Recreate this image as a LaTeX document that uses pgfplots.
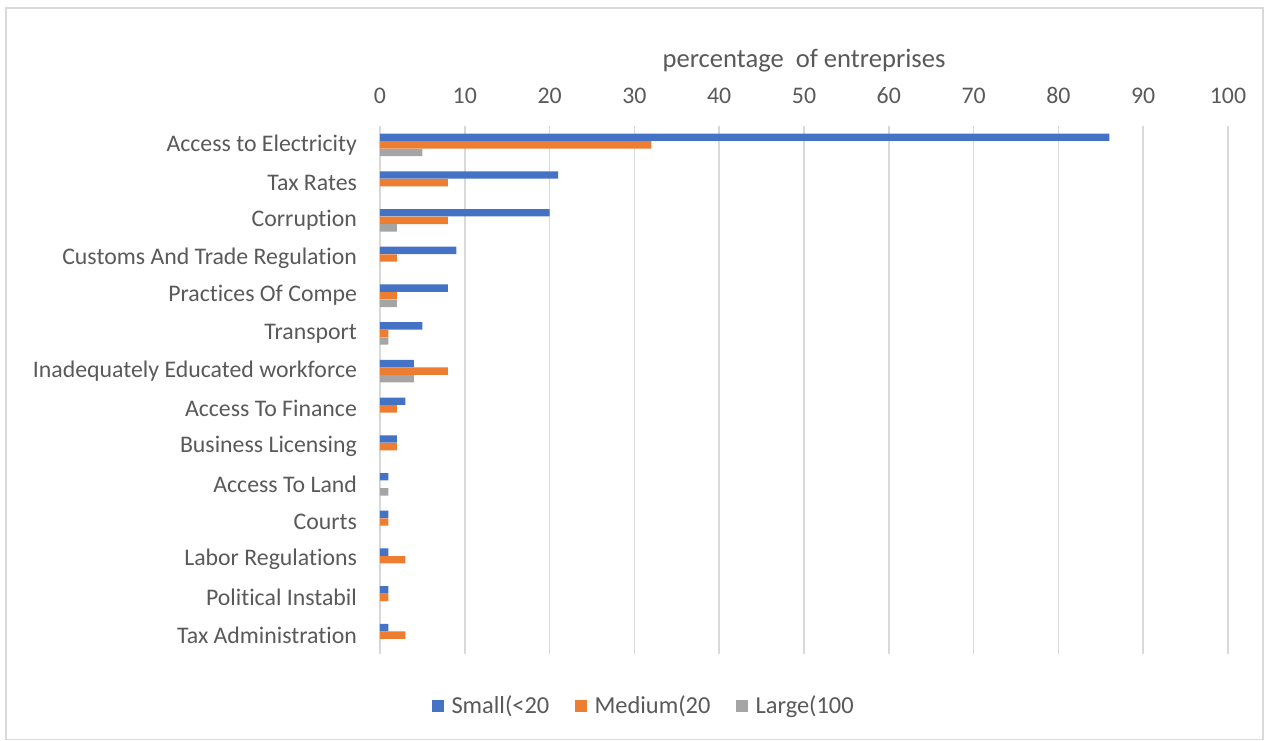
\documentclass[border=0pt]{standalone}
\usepackage{pgfplots}
\pgfplotsset{compat=1.18}
\usepackage{fontspec}
\setmainfont{Carlito}[RawFeature={-liga;-clig;-calt;-dlig}]
\definecolor{cS}{HTML}{4472C4}
\definecolor{cM}{HTML}{ED7D31}
\definecolor{cL}{HTML}{A5A5A5}
\definecolor{txt}{HTML}{595959}
\definecolor{grd}{HTML}{D9D9D9}
\begin{document}
\begin{tikzpicture}
\useasboundingbox (0,0) rectangle (632pt,-370pt);
\draw[grd, line width=0.6pt] (3pt,-4pt) rectangle (631.5pt,-369.7pt);
\begin{axis}[at={(190pt,-63pt)}, anchor=north west, scale only axis,
  width=424pt, height=264pt,
  xbar, bar width=3.7pt,
  xmin=0, xmax=100, xtick={0,10,...,100},
  ymin=-0.5, ymax=13.5, y dir=reverse,
  ytick={0,...,13},
  yticklabels={Access to Electricity,Tax Rates,Corruption,Customs And Trade Regulation,Practices Of Compe,Transport,Inadequately Educated workforce,Access To Finance,Business Licensing,Access To Land,Courts,Labor Regulations,Political Instabil,Tax Administration},
  axis line style={draw=none}, major tick length=0pt,
  xmajorgrids, grid style={grd, line width=0.8pt},
  xticklabel pos=upper,
  tick label style={font=\fontsize{11.9}{13}\selectfont, text=txt},
  xticklabel style={yshift=7.5pt},
  yticklabel style={xshift=-8pt},
  /pgf/number format/assume math mode=true,
  title={percentage\ \ of entreprises},
  title style={at={(0.5,1)}, anchor=center, yshift=26.5pt, font=\fontsize{13.3}{15}\selectfont, text=txt},
  legend style={at={(axis description cs:0.3125,-0.0985)}, anchor=center, draw=none, font=\fontsize{12.2}{14}\selectfont, text=txt, legend columns=3,
    /tikz/every odd column/.append style={column sep=2pt},
    /tikz/every even column/.append style={column sep=11pt}},
  legend image code/.code={\fill[#1] (0pt,-2.8pt) rectangle (5.6pt,2.8pt);},
]
\addplot[fill=cS, draw=none, bar shift=3.8pt] coordinates {(86,0) (21,1) (20,2) (9,3) (8,4) (5,5) (4,6) (3,7) (2,8) (1,9) (1,10) (1,11) (1,12) (1,13)};
\addplot[fill=cM, draw=none, bar shift=0pt] coordinates {(32,0) (8,1) (8,2) (2,3) (2,4) (1,5) (8,6) (2,7) (2,8) (0,9) (1,10) (3,11) (1,12) (3,13)};
\addplot[fill=cL, draw=none, bar shift=-3.8pt] coordinates {(5,0) (0,1) (2,2) (0,3) (2,4) (1,5) (4,6) (0,7) (0,8) (1,9) (0,10) (0,11) (0,12) (0,13)};
\legend{Small(<20,Medium(20,Large(100}
\end{axis}
\end{tikzpicture}
\end{document}
